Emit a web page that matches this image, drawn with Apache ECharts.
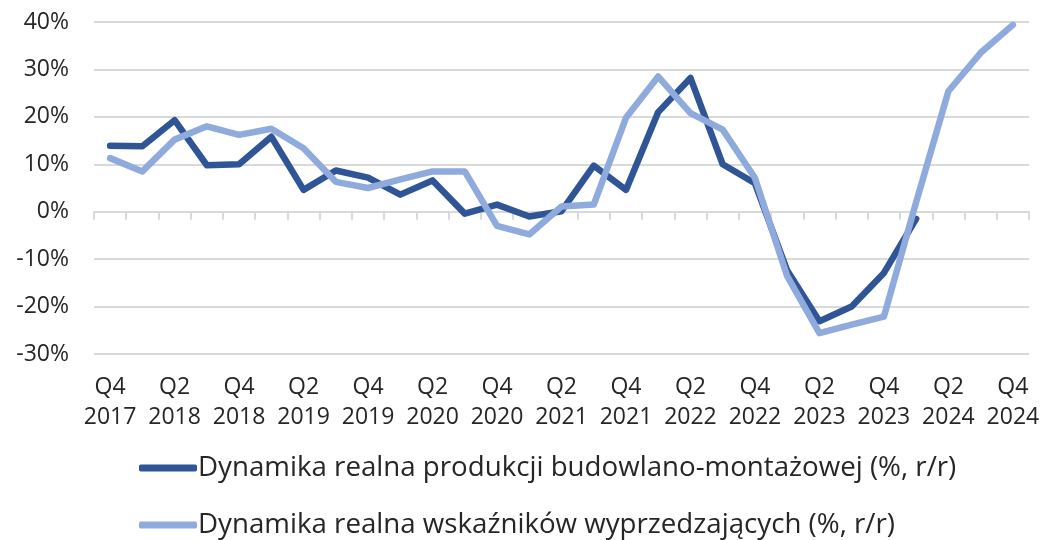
<!DOCTYPE html>
<html>
<head>
<meta charset="utf-8">
<script src="https://cdn.jsdelivr.net/npm/echarts@6/dist/echarts.min.js"></script>
<style>
  html, body { margin: 0; padding: 0; background: #ffffff; }
  #chart { width: 1044px; height: 540px; }
</style>
</head>
<body>
<div id="chart"></div>
<script>
// Quarterly categories, Q4 2017 – Q4 2024
const quarters = [
  'Q4\n2017', 'Q1\n2018', 'Q2\n2018', 'Q3\n2018', 'Q4\n2018',
  'Q1\n2019', 'Q2\n2019', 'Q3\n2019', 'Q4\n2019',
  'Q1\n2020', 'Q2\n2020', 'Q3\n2020', 'Q4\n2020',
  'Q1\n2021', 'Q2\n2021', 'Q3\n2021', 'Q4\n2021',
  'Q1\n2022', 'Q2\n2022', 'Q3\n2022', 'Q4\n2022',
  'Q1\n2023', 'Q2\n2023', 'Q3\n2023', 'Q4\n2023',
  'Q1\n2024', 'Q2\n2024', 'Q3\n2024', 'Q4\n2024'
];

const seriesNames = [
  'Dynamika realna produkcji budowlano-montażowej (%, r/r)',
  'Dynamika realna wskaźników wyprzedzających (%, r/r)'
];

// Real construction output growth, % y/y
const productionGrowth = [
  13.9, 13.8, 19.3, 9.8, 10.0,
  15.8, 4.6, 8.7, 7.2,
  3.6, 6.6, -0.4, 1.5,
  -1.0, 0.1, 9.7, 4.6,
  21.0, 28.2, 10.0, 6.0,
  -12.4, -23.1, -20.0, -12.9,
  -1.5, null, null, null
];

// Real leading indicators growth, % y/y
const leadingGrowth = [
  11.3, 8.5, 15.2, 18.0, 16.2,
  17.5, 13.4, 6.3, 5.0,
  6.8, 8.5, 8.5, -3.0,
  -4.8, 1.1, 1.5, 19.8,
  28.5, 20.8, 17.3, 7.1,
  -13.6, -25.6, -23.8, -22.1,
  2.0, 25.4, 33.5, 39.4
];

const FONT = '"Open Sans", Lato, sans-serif';
const TEXT = '#262626';
const GRID_LINE = '#d9d9d9';

const chart = echarts.init(document.getElementById('chart'), null, { renderer: 'canvas' });

chart.setOption({
  animation: false,
  textStyle: { fontFamily: FONT, color: TEXT },
  grid: { left: 94, right: 15, top: 22, bottom: 186, containLabel: false },
  legend: {
    orient: 'vertical',
    left: 139,
    top: 453,
    padding: 0,
    itemGap: 27,
    itemWidth: 58,
    itemHeight: 7,
    icon: 'roundRect',
    textStyle: {
      fontFamily: FONT,
      fontSize: 27.7,
      lineHeight: 30,
      color: TEXT,
      padding: [0, 0, 0, -4]
    },
    data: seriesNames
  },
  xAxis: [
    {
      // labels along the bottom edge of the plot
      type: 'category',
      data: quarters,
      position: 'bottom',
      boundaryGap: true,
      axisLine: { show: false, onZero: false },
      axisTick: { show: false },
      splitLine: { show: false },
      axisLabel: {
        interval: 1,
        fontFamily: FONT,
        fontSize: 23,
        color: TEXT,
        lineHeight: 30,
        margin: 18
      }
    },
    {
      // category axis line with ticks, drawn at 0%
      type: 'category',
      data: quarters,
      position: 'top',
      boundaryGap: true,
      axisLine: { show: true, onZero: true, lineStyle: { color: GRID_LINE, width: 2 } },
      axisTick: { show: true, inside: true, interval: 0, length: 8, lineStyle: { color: GRID_LINE, width: 2 } },
      axisLabel: { show: false },
      splitLine: { show: false }
    }
  ],
  yAxis: {
    type: 'value',
    min: -30,
    max: 40,
    interval: 10,
    axisLine: { show: false },
    axisTick: { show: false },
    axisLabel: {
      formatter: '{value}%',
      fontFamily: FONT,
      fontSize: 23,
      color: TEXT,
      margin: 25
    },
    splitLine: { lineStyle: { color: GRID_LINE, width: 2 } }
  },
  series: [
    {
      name: seriesNames[0],
      type: 'line',
      xAxisIndex: 0,
      data: productionGrowth,
      showSymbol: false,
      symbol: 'none',
      color: '#2f5597',
      lineStyle: { width: 6.5, color: '#2f5597', cap: 'round', join: 'round' },
      itemStyle: { color: '#2f5597' },
      z: 3
    },
    {
      name: seriesNames[1],
      type: 'line',
      xAxisIndex: 0,
      data: leadingGrowth,
      showSymbol: false,
      symbol: 'none',
      color: '#8faadc',
      lineStyle: { width: 6.5, color: '#8faadc', cap: 'round', join: 'round' },
      itemStyle: { color: '#8faadc' },
      z: 4
    }
  ]
});
</script>
</body>
</html>
